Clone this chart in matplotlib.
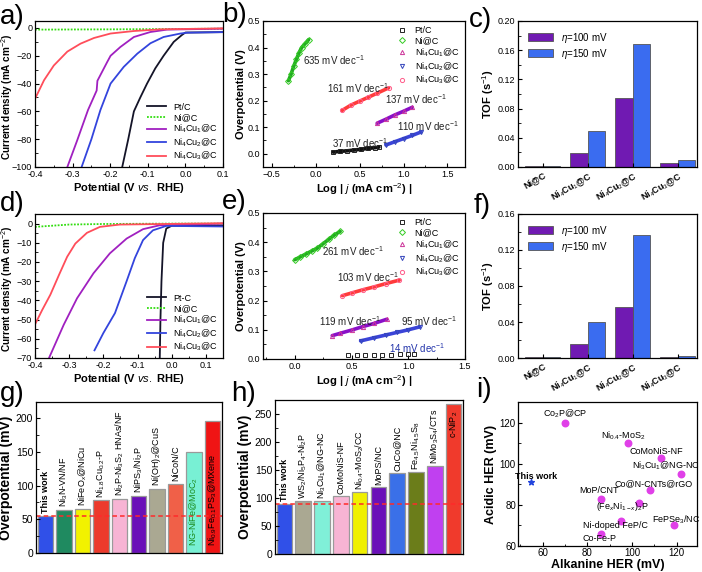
import matplotlib
matplotlib.use('Agg')
import matplotlib.pyplot as plt
from matplotlib.ticker import AutoMinorLocator

plt.rcParams['font.family'] = ['Liberation Sans', 'DejaVu Sans']
plt.rcParams['mathtext.fontset'] = 'custom'
plt.rcParams['mathtext.rm'] = 'Liberation Sans'
plt.rcParams['mathtext.it'] = 'Liberation Sans:italic'
plt.rcParams['mathtext.bf'] = 'Liberation Sans:bold'

# ---------------- data ----------------
lsv_labels_a = ['Pt/C', 'Ni@C', 'Ni$_4$Cu$_1$@C', 'Ni$_4$Cu$_2$@C', 'Ni$_4$Cu$_3$@C']
lsv_labels_d = ['Pt-C', 'Ni@C', 'Ni$_4$Cu$_1$@C', 'Ni$_4$Cu$_2$@C', 'Ni$_4$Cu$_3$@C']

# panel a (acidic LSV)
a_pt_x = [0.1, 0.0, -0.009, -0.031, -0.058, -0.08, -0.102, -0.12, -0.137, -0.152, -0.168]
a_pt_y = [-3.0, -3.3, -5.0, -10.0, -20.0, -29.0, -40.0, -50.0, -60.0, -80.0, -100.0]
a_ni_x = [-0.4, -0.2, 0.0, 0.1]
a_ni_y = [-1.2, -1.0, -0.7, -0.5]
a_c1_x = [0.1, -0.049, -0.093, -0.137, -0.173, -0.199, -0.208, -0.234, -0.236, -0.259, -0.288, -0.314]
a_c1_y = [-0.5, -1.2, -2.9, -6.5, -13.7, -20.0, -24.5, -38.0, -45.0, -59.0, -81.0, -100.0]
a_c2_x = [0.1, 0.005, -0.013, -0.058, -0.093, -0.128, -0.164, -0.199, -0.226, -0.25, -0.276]
a_c2_y = [-3.0, -3.4, -4.0, -6.5, -11.0, -18.5, -28.0, -40.0, -59.0, -80.0, -100.0]
a_c3_x = [0.1, -0.066, -0.137, -0.199, -0.243, -0.279, -0.314, -0.35, -0.376, -0.4]
a_c3_y = [-0.3, -1.0, -2.2, -4.0, -7.2, -11.3, -17.0, -27.0, -37.6, -51.0]

# panel d (alkaline LSV)
d_pt_x = [0.15, 0.0, -0.016, -0.025, -0.03, -0.033, -0.035]
d_pt_y = [-1.0, -1.1, -2.6, -10.0, -30.0, -50.0, -70.0]
d_ni_x = [-0.4, -0.3, -0.2, 0.0, 0.15]
d_ni_y = [-1.7, -0.5, -0.2, 0.0, 0.0]
d_c1_x = [0.15, -0.036, -0.084, -0.132, -0.181, -0.229, -0.277, -0.316, -0.359]
d_c1_y = [0.0, -0.9, -2.9, -7.8, -15.5, -25.9, -38.9, -52.7, -70.0]
d_c2_x = [0.15, -0.016, -0.055, -0.084, -0.108, -0.132, -0.166, -0.2, -0.226]
d_c2_y = [-1.5, -1.2, -3.5, -8.6, -18.0, -30.0, -46.6, -57.0, -66.0]
d_c3_x = [0.15, -0.152, -0.21, -0.248, -0.282, -0.306, -0.33, -0.355, -0.379, -0.398]
d_c3_y = [0.2, -0.5, -1.7, -4.8, -10.4, -17.3, -26.8, -37.0, -45.0, -51.8]

# panel b (acidic Tafel)
b_pt_x = [0.2, 0.28, 0.36, 0.44, 0.52, 0.6, 0.68, 0.72]
b_pt_y = [0.006, 0.009, 0.011, 0.014, 0.017, 0.02, 0.023, 0.025]
b_ni_x = [-0.31, -0.28, -0.25, -0.22, -0.19, -0.16, -0.12, -0.08]
b_ni_y = [0.275, 0.30, 0.33, 0.355, 0.38, 0.40, 0.415, 0.43]
b_c1_x = [0.70, 0.8, 0.9, 1.0, 1.1]
b_c1_y = [0.115, 0.13, 0.146, 0.16, 0.175]
b_c2_x = [0.80, 0.9, 1.0, 1.1, 1.2]
b_c2_y = [0.033, 0.045, 0.057, 0.069, 0.082]
b_c3_x = [0.30, 0.4, 0.5, 0.6, 0.7, 0.83]
b_c3_y = [0.163, 0.183, 0.198, 0.213, 0.228, 0.248]
b_slopes = ['37 mV dec$^{-1}$', '635 mV dec$^{-1}$', '137 mV dec$^{-1}$', '110 mV dec$^{-1}$', '161 mV dec$^{-1}$']

# panel e (alkaline Tafel)
e_pt_x = [0.47, 0.55, 0.62, 0.7, 0.77, 0.85, 0.93, 1.0, 1.05]
e_pt_y = [0.013, 0.013, 0.014, 0.014, 0.015, 0.015, 0.016, 0.016, 0.017]
e_ni_x = [0.0, 0.05, 0.1, 0.15, 0.2, 0.25, 0.3, 0.35, 0.4]
e_ni_y = [0.34, 0.35, 0.36, 0.37, 0.38, 0.395, 0.41, 0.425, 0.437]
e_c1_x = [0.33, 0.4, 0.5, 0.6, 0.7, 0.81]
e_c1_y = [0.08, 0.088, 0.099, 0.111, 0.122, 0.136]
e_c2_x = [0.58, 0.7, 0.8, 0.9, 1.0, 1.1]
e_c2_y = [0.062, 0.073, 0.082, 0.091, 0.1, 0.11]
e_c3_x = [0.42, 0.5, 0.6, 0.7, 0.8, 0.92]
e_c3_y = [0.217, 0.226, 0.237, 0.247, 0.258, 0.27]
e_slopes = ['14 mV dec$^{-1}$', '261 mV dec$^{-1}$', '119 mV dec$^{-1}$', '95 mV dec$^{-1}$', '103 mV dec$^{-1}$']

# panels c, f (TOF)
tof_cats = ['Ni@C', 'Ni$_4$Cu$_1$@C', 'Ni$_4$Cu$_2$@C', 'Ni$_4$Cu$_3$@C']
c_tof_100 = [0.001, 0.019, 0.094, 0.006]
c_tof_150 = [0.002, 0.050, 0.169, 0.009]
f_tof_100 = [0.0006, 0.016, 0.057, 0.001]
f_tof_150 = [0.0006, 0.040, 0.137, 0.0025]

# panel g (alkaline comparison)
g_names = ['This work', 'Ni$_3$N-VN/NF', 'NiFeO$_x$@NiCu', 'Ni$_{1.8}$Cu$_{0.2}$-P',
           'Ni$_2$P-Ni$_3$S$_2$ HNAs/NF', 'NiPS$_3$/Ni$_2$P', 'Ni(OH)$_2$@CuS', 'NiCoN/C',
           'NG-NiFe@MoC$_2$', 'Ni$_{0.9}$Fe$_{0.1}$PS$_3$@MXene']
g_vals = [55, 64, 66, 78, 80, 85, 95, 103, 150, 196]
g_colors = ['#3050e8', '#1f8a60', '#f2f200', '#ec3a2c', '#f7b4d4', '#6a10b8',
            '#aaa892', '#f06048', '#78f0d4', '#f01414']

# panel h (acidic comparison)
h_names = ['This work', 'WS$_2$/Ni$_5$P$_4$-Ni$_2$P', 'Ni$_3$Cu$_1$@NG-NC', 'CoMoNiS-NF',
           'Ni$_{0.4}$-MoS$_2$/CC', 'MoPS/NC', 'CuCo@NC', 'Fe$_{4.5}$Ni$_{4.5}$S$_8$',
           'NiMo$_3$S$_4$/CTs', 'c-NiP$_2$']
h_vals = [90, 94, 95, 103, 110, 120, 145, 146, 157, 267]
h_colors = ['#3050e8', '#aaa892', '#80f0d8', '#f7b4d4', '#f0f000', '#6a10b8',
            '#3a70e8', '#6b7d1a', '#c040f0', '#f03a2c']

# panel i (alkaline vs acidic)
i_names = ['Co$_2$P@CP', 'Ni$_{0.4}$-MoS$_2$', 'CoMoNiS-NF', 'Ni$_3$Cu$_1$@NG-NC',
           'Co@N-CNTs@rGO', 'MoP/CNT', '(Fe$_x$Ni$_{1-x}$)$_2$P', 'FePSe$_3$/NC',
           'Ni-doped FeP/C', 'Co-Fe-P']
i_alk = [70, 98, 113, 122, 108, 86, 103, 118.5, 95, 86]
i_acid = [120, 110, 103, 95, 87, 83, 81, 70, 72, 66]
this_alk = 55
this_acid = 91

# ---------------- figure ----------------
W, H = 702, 572
fig = plt.figure(figsize=(W / 100, H / 100), dpi=100)


def box(l, t, r, b):
    return fig.add_axes([l / W, 1 - b / H, (r - l) / W, (b - t) / H])


def style(ax, xminor=True, yminor=True):
    ax.tick_params(direction='in', length=3, width=0.8, labelsize=6.5, pad=2)
    ax.tick_params(which='minor', direction='in', length=1.8, width=0.6)
    if xminor:
        ax.xaxis.set_minor_locator(AutoMinorLocator(2))
    if yminor:
        ax.yaxis.set_minor_locator(AutoMinorLocator(2))
    for s in ax.spines.values():
        s.set_linewidth(0.9)


lab = dict(fontsize=8, fontweight='bold', labelpad=1.5)
lsv_colors = ['#141428', '#33dd11', '#a020c0', '#3344dd', '#ff4d5a']

for (t, b, ylim, yt, xlim, labels, curves) in [
        (21, 167, (-100, 5), range(-100, 1, 20), (-0.4, 0.1), lsv_labels_a,
         [(a_pt_x, a_pt_y), (a_ni_x, a_ni_y), (a_c1_x, a_c1_y), (a_c2_x, a_c2_y), (a_c3_x, a_c3_y)]),
        (214, 358, (-70, 5), range(-70, 1, 10), (-0.4, 0.15), lsv_labels_d,
         [(d_pt_x, d_pt_y), (d_ni_x, d_ni_y), (d_c1_x, d_c1_y), (d_c2_x, d_c2_y), (d_c3_x, d_c3_y)])]:
    ax = box(35, t, 223, b)
    for k, (xs, ys) in enumerate(curves):
        ls = (0, (1, 0.8)) if k == 1 else '-'
        ax.plot(xs, ys, color=lsv_colors[k], lw=1.3, ls=ls, label=labels[k])
    ax.set_xlim(*xlim)
    ax.set_ylim(*ylim)
    ax.set_yticks(list(yt))
    ax.set_xticks([-0.4, -0.3, -0.2, -0.1, 0.0, 0.1])
    ax.set_xticklabels(['-0.4', '-0.3', '-0.2', '-0.1', '0.0', '0.1'])
    ax.set_xlabel('Potential (V $\\mathbf{\\it{vs.}}$ RHE)', **lab)
    ax.set_ylabel('Current density (mA cm$^{-2}$)', fontsize=7.2, fontweight='bold')
    ax.yaxis.set_label_coords(-0.105, 0.48)
    style(ax)
    ax.legend(loc='lower right', fontsize=6.5, frameon=False, handlelength=2.1,
              labelspacing=0.12, borderaxespad=0.1)

# Tafel panels
taf_colors = ['#111111', '#22aa22', '#8a10c8', '#3b44d8', '#ff3b3b']
taf_edge = ['#222222', '#33cc22', '#cc3399', '#3344bb', '#ff5c8a']
taf_marks = ['s', 'D', '^', 'v', 'o']
for (t, b, xlim, xt, series, slopes, spos) in [
        (21, 167, (-0.6, 1.7), [-0.5, 0.0, 0.5, 1.0, 1.5],
         [(b_pt_x, b_pt_y), (b_ni_x, b_ni_y), (b_c1_x, b_c1_y), (b_c2_x, b_c2_y), (b_c3_x, b_c3_y)],
         b_slopes, [(0.18, 0.04), (-0.14, 0.353), (0.79, 0.206), (0.93, 0.103), (0.13, 0.247)]),
        (213, 359, (-0.28, 1.5), [0.0, 0.5, 1.0, 1.5],
         [(e_pt_x, e_pt_y), (e_ni_x, e_ni_y), (e_c1_x, e_c1_y), (e_c2_x, e_c2_y), (e_c3_x, e_c3_y)],
         e_slopes, [(0.83, 0.038), (0.24, 0.369), (0.215, 0.131), (0.94, 0.131), (0.37, 0.28)])]:
    ax = box(263, t, 465, b)
    for k, (xs, ys) in enumerate(series):
        if not (t > 100 and k == 0):
            ax.plot(xs, ys, color=taf_colors[k], lw=2.6, solid_capstyle='round')
        ax.plot(xs, ys, ls='none', marker=taf_marks[k], ms=3, mfc='none',
                mec=taf_edge[k], mew=0.7, label=lsv_labels_a[k])
    for k, (s, (x0, y0)) in enumerate(zip(slopes, spos)):
        col = '#2233aa' if (t > 100 and k == 0) else '#222222'
        ax.text(x0, y0, s, fontsize=7, color=col, va='center', ha='left')
    ax.set_xlim(*xlim)
    ax.set_ylim((-0.05, 0.5) if t < 100 else (0, 0.5))
    ax.set_xticks(xt)
    ax.set_yticks([0.0, 0.1, 0.2, 0.3, 0.4, 0.5])
    ax.set_xlabel('Log | $\\mathbf{\\it{j}}$ (mA cm$^{-2}$) |', **lab)
    ax.set_ylabel('Overpotential (V)', **lab)
    style(ax)
    ax.legend(loc='upper right', fontsize=6.5, frameon=False, handlelength=1.0,
              handletextpad=0.9, labelspacing=0.12, borderaxespad=0.2)

# TOF panels
for (t, b, v1, v2, ymax, yt) in [
        (21, 167, c_tof_100, c_tof_150, 0.2, [0.0, 0.04, 0.08, 0.12, 0.16, 0.2]),
        (214, 358, f_tof_100, f_tof_150, 0.16, [0.0, 0.04, 0.08, 0.12, 0.16])]:
    ax = box(518, t, 697, b)
    xs = list(range(len(tof_cats)))
    ax.bar([x - 0.195 for x in xs], v1, width=0.39, color='#701ab2', edgecolor='#555555',
           lw=0.6, label='$\\eta$=100 mV')
    ax.bar([x + 0.195 for x in xs], v2, width=0.39, color='#3a6cf0', edgecolor='#555555',
           lw=0.6, label='$\\eta$=150 mV')
    ax.set_xlim(-0.55, 3.43)
    ax.set_ylim(0, ymax)
    ax.set_yticks(yt)
    ax.set_yticklabels(['%.2f' % v for v in yt])
    ax.set_xticks(xs)
    ax.set_xticklabels(tof_cats, rotation=30, ha='right', rotation_mode='anchor',
                       fontsize=6.5, fontweight='bold')
    ax.set_ylabel('TOF (s$^{-1}$)', **lab)
    style(ax, xminor=False)
    ax.legend(loc='upper left', fontsize=7, frameon=False, handlelength=2.6,
              handleheight=0.9, labelspacing=0.2, borderaxespad=0.6)

# comparison bars
for (l, t, r, b, names, vals, cols, ymax, yt, ref) in [
        (36, 402, 222, 553, g_names, g_vals, g_colors, 224, range(0, 201, 50), g_vals[0]),
        (275, 400, 463, 554, h_names, h_vals, h_colors, 275, range(0, 251, 50), h_vals[0])]:
    ax = box(l, t, r, b)
    xs = list(range(len(names)))
    ax.bar(xs, vals, width=0.83, color=cols, edgecolor='#9a9a9a', lw=0.9)
    ax.axhline(ref, color='#ff2a2a', ls=(0, (3, 2)), lw=1.1)
    for x, v, n in zip(xs, vals, names):
        fw = 'bold' if n == 'This work' else 'normal'
        if v > 190 and ymax > 250:
            ax.text(x, v - 12, n, rotation=90, ha='center', va='top', fontsize=6.5)
        elif v > 120 and ymax < 250:
            c = '#1a8a1a' if 'NG' in n else 'black'
            ax.text(x, 10, n, rotation=90, ha='center', va='bottom', fontsize=6.5, color=c)
        else:
            ax.text(x, v + 4, n, rotation=90, ha='center', va='bottom', fontsize=6.5,
                    fontweight=fw)
    ax.set_xlim(-0.5, len(names) - 0.5)
    ax.set_ylim(0, ymax)
    ax.set_yticks(list(yt))
    ax.set_xticks([])
    ax.set_ylabel('Overpotential (mV)', fontsize=10, fontweight='bold', labelpad=2)
    style(ax, xminor=False)
    ax.tick_params(labelsize=7.5)

# panel i
ax = box(518, 402, 697, 546)
ax.scatter(i_alk, i_acid, s=22, color='#e040e8', zorder=3)
ax.scatter([this_alk], [this_acid], s=18, marker='*', color='#2244dd', zorder=3)
offs = [(0, 6), (-3.5, 5.2), (-3.7, 4.4), (-11, 6.2), (2.7, 4.9), (-1.4, 5.9),
        (-12, -3), (1.9, 4.4), (-4.2, -3.1), (-1, -3.6)]
for n, x, y, o in zip(i_names, i_alk, i_acid, offs):
    ax.annotate(n, (x, y), xytext=o, textcoords='offset points', ha='center',
                va='center', fontsize=6.5)
ax.annotate('This work', (this_alk, this_acid), xytext=(3.2, 4.4), textcoords='offset points',
            ha='center', va='center', fontsize=6.5, fontweight='bold')
ax.set_xlim(49, 129)
ax.set_ylim(60, 130)
ax.set_xticks([60, 80, 100, 120])
ax.set_yticks([60, 80, 100, 120])
ax.set_xlabel('Alkanine HER (mV)', fontsize=9, fontweight='bold', labelpad=1)
ax.set_ylabel('Acidic HER (mV)', fontsize=9, fontweight='bold', labelpad=2)
style(ax)
ax.tick_params(labelsize=7, pad=1.5)

# panel letters
for s, x, y in [('a)', 0, 17), ('b)', 222, 15), ('c)', 469, 20),
                ('d)', 0, 204), ('e)', 222, 202), ('f)', 474, 206),
                ('g)', 0, 394), ('h)', 231, 394), ('i)', 476, 390)]:
    fig.text(x / W, 1 - y / H, s, fontsize=20, va='center', ha='left')

fig.savefig('out.png', dpi=100)
